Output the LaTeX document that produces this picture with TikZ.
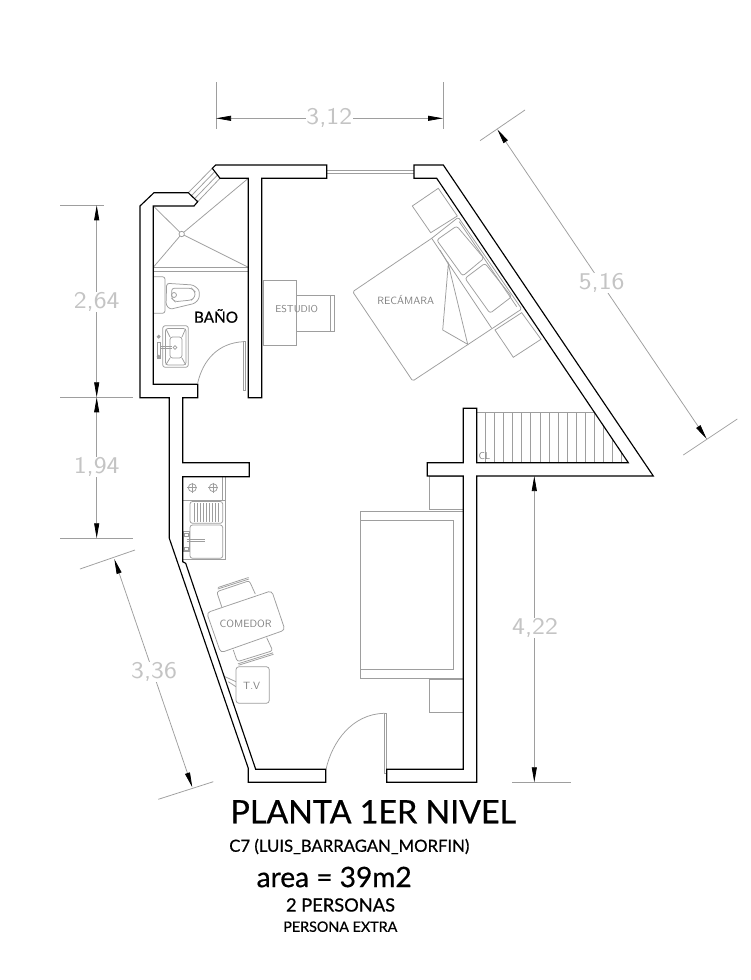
\documentclass[tikz,border=0pt]{standalone}
\usepackage{fontspec}
\setmainfont{Lato}[FakeBold=0.6]
\usetikzlibrary{arrows.meta}
\definecolor{cadgray}{gray}{0.62}
\definecolor{dimtext}{gray}{0.77}
\tikzset{
  wall/.style={draw=black,line width=1.15pt,line join=miter,fill=white},
  fix/.style={draw=cadgray,line width=0.75pt},
  fixr/.style={fix,rounded corners=2.5pt},
  dimline/.style={draw=cadgray,line width=0.75pt,
    {Stealth[black,length=15pt,width=5pt,inset=0pt]}-{Stealth[black,length=15pt,width=5pt,inset=0pt]}},
  extline/.style={draw=cadgray,line width=0.75pt},
  dimlabel/.style={fill=white,inner sep=0.5pt,text=dimtext,font=\sffamily\fontsize{24}{24}\selectfont,xscale=1.14},
  roomlabel/.style={inner sep=0pt,text=black!50,font=\sffamily\fontsize{10.5}{11}\selectfont},
  title/.style={inner sep=0pt,text=black}
}
\begin{document}
\begin{tikzpicture}[x=1pt,y=-1pt]
\useasboundingbox[fill=white] (0,0) rectangle (750,980);

% --- window glazing
\draw[fix] (326.7,170) -- (414,170) (326.7,173.3) -- (414,173.3);
\draw[fix] (212.3,168.3) -- (188.3,192.7) (220,178.3) -- (197.7,201.7);
\draw[fix] (214.8,171.6) -- (191.4,195.7) (217.5,175) -- (194.6,198.7);

% --- shower
\draw[fix] (153.3,206) -- (181.7,234) (153.3,267.3) -- (181.7,234)
           (248.3,178.3) -- (181.7,234) (181.7,234) -- (248.3,267.3);
\draw[fix,fill=white] (181.7,234) circle[radius=2.7pt];
\draw[fix] (153.3,267.3) -- (248.3,267.3) (153.3,271.7) -- (248.3,271.7);

% --- toilet
\draw[fixr] (153.3,276.7) -- (165,276.7) -- (165,313.3) -- (153.3,313.3);
\draw[fixr] (166.7,283.3) -- (193.3,285) -- (199.3,290) -- (199.3,298.3) -- (195,303.3) -- (170,309.3) -- (166,305) -- cycle;
\draw[fixr] (171.7,288.3) -- (191.7,288.3) -- (195,291.7) -- (195,296.7) -- (191.7,300) -- (175,301.7) -- (171.7,298.3) -- cycle;
\draw[fix] (174,295) circle[radius=2.5pt];

% --- wash basin
\draw[fixr] (162.7,325.7) rectangle (188.3,367.3);
\draw[fixr] (165.5,328.5) rectangle (186,365);
\draw[fixr] (170,337) rectangle (182,358);
\draw[fix] (166,329) -- (170,337) (185.5,329) -- (182,337) (166,364.5) -- (170,358) (185.5,364.5) -- (182,358);
\draw[fix] (157.5,342) rectangle (160.5,358);
\draw[fix] (160.5,346.7) -- (171.5,346.7) (160.5,348.5) -- (171.5,348.5);
\draw[fix] (175,347.5) circle[radius=1.8pt];
\draw[fix,fill=cadgray] (158.7,336.7) circle[radius=1.5pt] (158.7,356.7) circle[radius=1.5pt];

% --- bath door
\draw[fix] (243.3,341.7) -- (245.7,341.7) -- (245.7,390) -- (243.3,390) -- cycle;
\draw[fix] (243.3,341.7) .. controls (218,343) and (203,360) .. (197.7,383);

% --- desk
\draw[fix] (263.3,280) rectangle (296,345.3);
\draw[fix] (296.7,295) rectangle (334,331.7);
\draw[fix] (330.5,295) -- (330.5,331.7);
\node[roomlabel,font=\sffamily\fontsize{10}{11}\selectfont] (estudio) at (296.7,309) {ESTUDIO};

% --- bed
\draw[fix,rounded corners=1.5pt] (431.7,238.3) -- (352.7,291.7) -- (412.7,381) -- (521.7,309) -- (458.3,217.3) -- cycle;
\draw[fix] (431.7,238.3) -- (491.7,328.3);
\draw[fix] (459.3,221.7) -- (516.7,306.7);
\draw[fixr] (436.7,240) -- (456.7,226) -- (484,258.3) -- (462.7,276) -- cycle;
\draw[fixr] (465,278.3) -- (485,263.3) -- (511.7,296.7) -- (490,313.3) -- cycle;
\draw[fix] (412.3,206) -- (438.3,188.3) -- (457.3,216) -- (430.7,232.7) -- cycle;
\draw[fix] (495,330) -- (521.7,312.7) -- (541,339.3) -- (513.3,357.3) -- cycle;
\draw[fix] (448.3,264) -- (442.7,330) -- (467.7,344.3) -- cycle;
\draw[fix] (440,250) -- (448.3,264);
\node[roomlabel] (recamara) at (405.7,300) {RECÁMARA};

% --- stairs
\begin{scope}
  \clip (476.7,412.3) -- (594.3,412.3) -- (628.3,462.7) -- (476.7,462.7) -- cycle;
  \foreach \tx in {485.7,494.7,503.3,512.7,521.7,530.7,540,549,558.3,567.3,576.3,585.3,594.3,603.3,612.3,621.7}
    \draw[fix] (\tx,412.3) -- (\tx,462.7);
\end{scope}
\draw[fix] (476.7,412.3) -- (594.3,412.3);
\node[roomlabel,font=\sffamily\fontsize{10}{11}\selectfont] (cl) at (484.5,456) {CL};

% --- kitchen
\draw[fix] (182.7,476.7) rectangle (225,559.3);
\draw[fix] (222.7,476.7) -- (222.7,500);
\draw[fix] (182.7,500) -- (225,500);
\foreach \bx in {192.3,213.3}{
  \draw[fix] (\bx,487.7) circle[radius=4pt];
  \draw[fix] (\bx-5,487.7) -- (\bx+5,487.7) (\bx,482.7) -- (\bx,492.7);
}
\draw[fixr] (190,501.5) rectangle (222.7,523.3);
\foreach \hx in {194,197,200,203,206,209,212,215,218}
  \draw[fix] (\hx,503) -- (\hx,522);
\draw[fixr] (190,525) rectangle (222.7,558.3);
\draw[fix] (183.3,531.7) rectangle (189.3,551.7);
\draw[fix] (184.5,533) rectangle (188,536.5) (184.5,547) rectangle (188,550.5);
\draw[fix] (186.7,539.8) -- (205,539.8) (186.7,541.5) -- (205,541.5);

% --- dining
\draw[fixr] (221.7,606.7) -- (216.7,591.7) -- (249.3,580.7) -- (255.3,594);
\draw[fix] (217.7,589) -- (249,579);
\draw[fix] (218,587.5) -- (248.5,577.5);
\draw[fixr] (233.3,650) -- (237.3,661.7) -- (272.7,650.7) -- (266.7,637.7);
\draw[fix] (238,663.8) -- (273,652.8);
\draw[fix] (238.6,665.2) -- (273.5,654.3);
\draw[fix,rounded corners=3.5pt] (206.7,612.7) -- (271.7,590.7) -- (285,630) -- (220.7,652.7) -- cycle;
\node[roomlabel] (comedor) at (245.7,624) {COMEDOR};

% --- TV
\draw[fix,rounded corners=3pt] (236,666.7) rectangle (269.3,703.3);
\draw[fix] (225,676.7) -- (236,681.7) (228.3,681.7) -- (236,686.7);
\node[roomlabel] (tv) at (251.7,686) {T.V};

% --- sofa and side tables
\draw[fix] (360.3,511) rectangle (463.3,678.3);
\draw[fix] (360.3,520.3) -- (453.3,520.3) -- (453.3,669) -- (360.3,669);
\draw[fix] (429.3,476) rectangle (463.3,509.3);
\draw[fix] (429.3,679.3) rectangle (463.3,712.3);

% --- entry door
\draw[fix] (384.3,713.3) -- (386.7,713.3) -- (386.7,773.3) -- (384.3,773.3) -- cycle;
\draw[fix] (384.3,713.3) .. controls (352,714) and (332,742) .. (326,769.3);

% --- walls
\draw[wall] (212.3,168.3) -- (215.7,165) -- (326.7,165) -- (326.7,178.3) -- (261.7,178.3) -- (261.7,397.7) -- (248.3,397.7) -- (248.3,178.3) -- (220,178.3) -- cycle;
\draw[wall,fill=none] (188.3,192.7) -- (197.7,201.7) -- (194,206) -- (153.3,206) -- (153.3,384.3) -- (197.7,384.3) -- (197.7,397.7) -- (182.7,397.7) -- (182.7,462.7) -- (249.3,462.7) -- (249.3,476.7) -- (182.7,476.7) -- (182.7,561.7) -- (185.7,563.3) -- (255.7,769.3) -- (325.7,769.3) -- (325.7,782.3) -- (248.3,782.3) -- (248.3,768.3) -- (169.3,538.3) -- (169.3,397.7) -- (140,397.7) -- (140,206) -- (154,192.7) -- cycle;
\draw[wall,fill=none] (386.7,769.3) -- (463.3,769.3) -- (463.3,476) -- (427.3,476) -- (427.3,462.7) -- (463.3,462.7) -- (463.3,408.3) -- (476.7,408.3) -- (476.7,462.7) -- (628.3,462.7) -- (436.7,178.3) -- (414,178.3) -- (414,165) -- (443.3,165) -- (653.3,476) -- (476.7,476) -- (476.7,782.3) -- (386.7,782.3) -- cycle;

% --- dimensions
\coordinate (d1a) at (216,118.3); \coordinate (d1b) at (443,118.3);
\draw[extline] (216,82) -- (216,129) (443,82) -- (443,129);
\draw[dimline] (d1a) -- (d1b);
\node[dimlabel] (dim312) at (329.3,117.5) {3,12};

\coordinate (d2a) at (96.7,205.3); \coordinate (d2b) at (96.7,397.3); \coordinate (d2c) at (96.7,538.3);
\draw[extline] (60,205.3) -- (104,205.3) (60,397.3) -- (133,397.3) (60,538.3) -- (133,538.3);
\draw[dimline] (d2a) -- (d2b);
\draw[dimline] (d2b) -- (d2c);
\node[dimlabel] (dim264) at (96.7,301.7) {2,64};
\node[dimlabel] (dim194) at (96.7,467.3) {1,94};

\coordinate (d3a) at (114.3,559); \coordinate (d3b) at (192.3,787.3);
\draw[extline] (80,569) -- (135,550) (158.3,799.3) -- (213.3,781.7);
\draw[dimline] (d3a) -- (d3b);
\node[dimlabel] (dim336) at (154,672.3) {3,36};

\coordinate (d4a) at (497.3,129.3); \coordinate (d4b) at (706.7,439);
\draw[extline] (480,140.7) -- (525,110) (683.3,455) -- (737.3,419);
\draw[dimline] (d4a) -- (d4b);
\node[dimlabel] (dim516) at (601.7,283.3) {5,16};

\coordinate (d5a) at (534.3,476); \coordinate (d5b) at (534.3,782.3);
\draw[extline] (512.3,782.3) -- (571,782.3);
\draw[dimline] (d5a) -- (d5b);
\node[dimlabel] (dim422) at (535,628.3) {4,22};

% --- titles
\node[title] (bano) at (216,316) {\resizebox{44pt}{!}{BAÑO}};
\node[title] (t1) at (373.3,811.7) {\resizebox{285.5pt}{!}{PLANTA 1ER NIVEL}};
\node[title] (t2) at (349.3,846.5) {\resizebox{240pt}{!}{C7 (LUIS\_BARRAGAN\_MORFIN)}};
\node[title] (t3) at (334.2,877) {\resizebox{155pt}{!}{area = 39m2}};
\node[title] (t4) at (340.5,905) {\resizebox{109pt}{!}{2 PERSONAS}};
\node[title] (t5) at (340.3,926.7) {\resizebox{114pt}{!}{PERSONA EXTRA}};
\end{tikzpicture}
\end{document}
